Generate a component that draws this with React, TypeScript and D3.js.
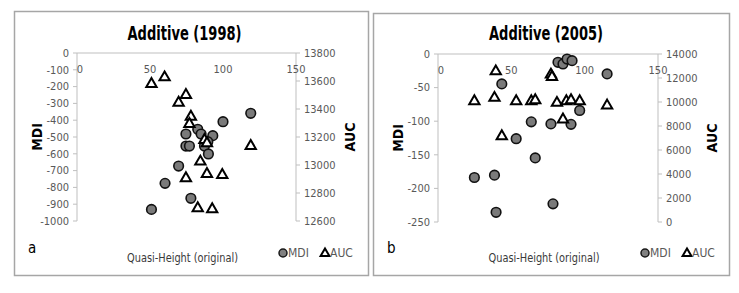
import * as d3 from "d3";

// Additive (1998) — panel a
const mdi1998 = [
  { x: 119, y: -359 }, { x: 100, y: -409 }, { x: 74.6, y: -482 }, { x: 82.7, y: -454 },
  { x: 85, y: -482 }, { x: 93, y: -492 }, { x: 74.6, y: -554 }, { x: 77, y: -554 },
  { x: 87.3, y: -554 }, { x: 89.6, y: -528 }, { x: 90, y: -601 }, { x: 69.6, y: -673 },
  { x: 60.3, y: -776 }, { x: 78, y: -865 }, { x: 51, y: -931 },
];
const auc1998 = [
  { x: 51, y: 13579 }, { x: 60, y: 13626 }, { x: 74.6, y: 13500 }, { x: 69.6, y: 13445 },
  { x: 78, y: 13345 }, { x: 77, y: 13293 }, { x: 87.3, y: 13179 }, { x: 89, y: 13155 },
  { x: 119, y: 13136 }, { x: 84.5, y: 13024 }, { x: 74.6, y: 12905 }, { x: 89, y: 12936 },
  { x: 99.5, y: 12929 }, { x: 82.7, y: 12691 }, { x: 92.6, y: 12684 },
];

// Additive (2005) — panel b
const mdi2005 = [
  { x: 81.8, y: -12.4 }, { x: 85.2, y: -14.8 }, { x: 88, y: -7.5 }, { x: 91.4, y: -9.9 },
  { x: 115.3, y: -29.6 }, { x: 43.5, y: -44.5 }, { x: 96.6, y: -84 }, { x: 63.6, y: -101 },
  { x: 77, y: -104 }, { x: 90.7, y: -104.7 }, { x: 53.3, y: -126 }, { x: 66.3, y: -154.6 },
  { x: 24.8, y: -183.8 }, { x: 38.5, y: -180.3 }, { x: 78.4, y: -223 }, { x: 39.6, y: -235.6 },
];
const auc2005 = [
  { x: 39.4, y: 12555 }, { x: 77, y: 12280 }, { x: 77.7, y: 12090 }, { x: 24.8, y: 10060 },
  { x: 38.5, y: 10343 }, { x: 53.3, y: 10060 }, { x: 63.6, y: 10060 }, { x: 66.3, y: 10143 },
  { x: 81.1, y: 9927 }, { x: 87.5, y: 10060 }, { x: 90.7, y: 10143 }, { x: 96.6, y: 10060 },
  { x: 115.3, y: 9702 }, { x: 85.2, y: 8538 }, { x: 43.5, y: 7150 },
];

const xTicks = [0, 50, 100, 150];
const mdiTicks1998 = [0, -100, -200, -300, -400, -500, -600, -700, -800, -900, -1000];
const aucTicks1998 = [12600, 12800, 13000, 13200, 13400, 13600, 13800];
const mdiTicks2005 = [0, -50, -100, -150, -200, -250];
const aucTicks2005 = [0, 2000, 4000, 6000, 8000, 10000, 12000, 14000];

const FONT = "'Liberation Sans Narrow', 'DejaVu Sans Condensed', Lato, sans-serif";
const AXIS = "#bfbfbf";
const LABEL = "#595959";

type Pt = { x: number; y: number };

interface PanelProps {
  title: string;
  tag: string;
  box: { x: number; y: number; w: number; h: number };
  plot: { left: number; right: number; top: number; bottom: number };
  mdi: Pt[];
  auc: Pt[];
  mdiDomain: [number, number];
  aucDomain: [number, number];
  mdiTicks: number[];
  aucTicks: number[];
}

const tri = d3.symbol(d3.symbolTriangle, 46)() as string;
const triSmall = d3.symbol(d3.symbolTriangle, 34)() as string;

function Panel(p: PanelProps) {
  const { plot, box } = p;
  const x = d3.scaleLinear().domain([0, 150]).range([plot.left, plot.right]);
  const yL = d3.scaleLinear().domain(p.mdiDomain).range([plot.bottom, plot.top]);
  const yR = d3.scaleLinear().domain(p.aucDomain).range([plot.bottom, plot.top]);
  const cx = (plot.left + plot.right) / 2;
  const cy = (plot.top + plot.bottom) / 2;
  const legY = box.y + box.h - 22;

  return (
    <g fontFamily={FONT}>
      <rect x={box.x + 0.5} y={box.y + 0.5} width={box.w} height={box.h}
        fill="white" stroke="#a6a6a6" strokeWidth={1.5} />
      <text x={cx - 2} y={40} textAnchor="middle" fontSize={20} fontWeight="bold" fill="#000"
        textLength={114} lengthAdjust="spacingAndGlyphs">
        {p.title}
      </text>

      {/* axes */}
      <line x1={plot.left} x2={plot.right} y1={yL(0)} y2={yL(0)} stroke={AXIS} />
      <line x1={plot.left} x2={plot.left} y1={plot.top} y2={plot.bottom} stroke={AXIS} />
      <line x1={plot.right} x2={plot.right} y1={plot.top} y2={plot.bottom} stroke={AXIS} />
      {p.mdiTicks.map((t) => (
        <g key={"l" + t}>
          <line x1={plot.left - 4} x2={plot.left} y1={yL(t)} y2={yL(t)} stroke={AXIS} />
          <text x={plot.left - 8} y={yL(t)} dy="0.35em" textAnchor="end" fontSize={11} fill={LABEL}>
            {t}
          </text>
        </g>
      ))}
      {p.aucTicks.map((t) => (
        <g key={"r" + t}>
          <line x1={plot.right} x2={plot.right + 4} y1={yR(t)} y2={yR(t)} stroke={AXIS} />
          <text x={plot.right + 8} y={yR(t)} dy="0.35em" textAnchor="start" fontSize={11} fill={LABEL}>
            {t}
          </text>
        </g>
      ))}
      {xTicks.map((t) => (
        <text key={"x" + t} x={x(t) + (t === 0 ? 3 : 0)} y={yL(0) + 16} dy="0.35em"
          textAnchor="middle" fontSize={11} fill={LABEL}>
          {t}
        </text>
      ))}

      {/* axis titles */}
      <text transform={`translate(${plot.left - 40},${cy}) rotate(-90)`} textAnchor="middle"
        dy="0.35em" fontSize={14} fontWeight="bold" fill="#000">MDI</text>
      <text transform={`translate(${plot.right + 54},${cy}) rotate(-90)`} textAnchor="middle"
        dy="0.35em" fontSize={14} fontWeight="bold" fill="#000">AUC</text>
      <text x={cx - 4} y={legY + 4} dy="0.35em" textAnchor="middle" fontSize={13} fill="#3a3a3a"
        textLength={111} lengthAdjust="spacingAndGlyphs">
        Quasi-Height (original)
      </text>
      <text x={box.x + 14} y={legY - 5} dy="0.35em" fontSize={15} fill="#000">{p.tag}</text>

      {/* legend */}
      <circle cx={plot.right - 13} cy={legY} r={4} fill="#808080" stroke="#1a1a1a" strokeWidth={1.5} />
      <text x={plot.right - 8} y={legY} dy="0.35em" fontSize={12} fill={LABEL}>MDI</text>
      <path d={triSmall} transform={`translate(${plot.right + 29},${legY + 0.5})`}
        fill="white" stroke="#000" strokeWidth={2} />
      <text x={plot.right + 34} y={legY} dy="0.35em" fontSize={12} fill={LABEL}>AUC</text>

      {/* points */}
      {p.mdi.map((d, i) => (
        <circle key={"c" + i} cx={x(d.x)} cy={yL(d.y)} r={4.8}
          fill="#7a7a7a" stroke="#111" strokeWidth={1.6} />
      ))}
      {p.auc.map((d, i) => (
        <path key={"t" + i} d={tri} transform={`translate(${x(d.x)},${yR(d.y)})`}
          fill="white" stroke="#000" strokeWidth={2} />
      ))}
    </g>
  );
}

export default function App() {
  return (
    <div style={{ position: "absolute", left: 0, top: 0 }}>
      <svg width={739} height={293} style={{ display: "block", background: "white" }}>
        <Panel
          title="Additive (1998)"
          tag="a"
          box={{ x: 14, y: 11, w: 354, h: 264 }}
          plot={{ left: 77, right: 296, top: 53, bottom: 221 }}
          mdi={mdi1998}
          auc={auc1998}
          mdiDomain={[-1000, 0]}
          aucDomain={[12600, 13800]}
          mdiTicks={mdiTicks1998}
          aucTicks={aucTicks1998}
        />
        <Panel
          title="Additive (2005)"
          tag="b"
          box={{ x: 373, y: 13, w: 356, h: 262 }}
          plot={{ left: 438, right: 658, top: 54, bottom: 222 }}
          mdi={mdi2005}
          auc={auc2005}
          mdiDomain={[-250, 0]}
          aucDomain={[0, 14000]}
          mdiTicks={mdiTicks2005}
          aucTicks={aucTicks2005}
        />
      </svg>
    </div>
  );
}
